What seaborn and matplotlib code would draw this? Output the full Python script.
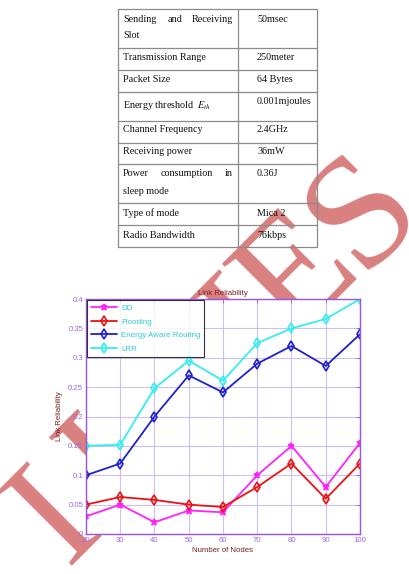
import matplotlib
matplotlib.use("Agg")
import matplotlib.pyplot as plt
import seaborn as sns
import pandas as pd

# table contents
param_rows = [["Sending", "and", "Receiving", "Slot"], "Transmission Range", "Packet Size",
              "Energy threshold  $E_{th}$", "Channel Frequency", "Receiving power",
              ["Power", "consumption", "in", "sleep mode"], "Type of mode", "Radio Bandwidth"]
param_values = ["50msec", "250meter", "64 Bytes", "0.001mjoules", "2.4GHz", "36mW",
                "0.36J", "Mica 2", "76kbps"]

# chart data
nodes = [20, 30, 40, 50, 60, 70, 80, 90, 100]
dd = [0.03, 0.05, 0.02, 0.04, 0.037, 0.10, 0.15, 0.08, 0.155]
flooding = [0.05, 0.063, 0.058, 0.05, 0.046, 0.08, 0.12, 0.06, 0.12]
energy_aware = [0.10, 0.12, 0.20, 0.27, 0.241, 0.29, 0.32, 0.286, 0.34]
lrr = [0.15, 0.152, 0.248, 0.295, 0.261, 0.325, 0.35, 0.366, 0.40]
series_names = ["DD", "Flooding", "Energy Aware Routing", "LRR"]
x_ticks = [20, 30, 40, 50, 60, 70, 80, 90, 100]
y_ticks = [0, 0.05, 0.1, 0.15, 0.2, 0.25, 0.3, 0.35, 0.4]
y_ticklabels = ["0", "0.05", "0.1", "0.15", "0.2", "0.25", "0.3", "0.35", "0.4"]

# watermark letters
wm_letters = ["I", "J", "I", "E", "S"]

sns.set_style("white")
plt.rcParams['font.family'] = ['Liberation Sans', 'DejaVu Sans']
plt.rcParams['mathtext.fontset'] = 'stix'

fig = plt.figure(figsize=(4.1, 5.74), dpi=100)

# background axes in pixel coordinates: watermark + table
bg = fig.add_axes([0, 0, 1, 1], zorder=0)
bg.set_xlim(0, 410)
bg.set_ylim(574, 0)
bg.axis("off")

# letters sit on a 45 degree line, offsets along it in pixels
wm_offsets = [0, 66, 272, 343, 433]
for letter, s in zip(wm_letters, wm_offsets):
    cx = 47 + s * 0.7071 + 38
    cy = 509 - s * 0.7071 + 38
    bg.text(cx, cy, letter, rotation=45, rotation_mode="anchor", ha="center", va="baseline",
            fontsize=116, family="Liberation Serif", color="#d98080", zorder=1)

row_lines = [9, 48, 70, 92, 121, 143, 164, 203, 225, 247]
tcol = "#8a8a8a"
for y in row_lines:
    bg.plot([118, 317], [y, y], color=tcol, lw=0.9, zorder=2)
for x in [118, 238, 317]:
    bg.plot([x, x], [9, 247], color=tcol, lw=0.9, zorder=2)

serif = dict(family="Liberation Serif", fontsize=7.3, color="#111111", zorder=3, va="center")
label_y = [19, 58, 80, 106, 130, 152, 174, 213, 235]
value_y = [19, 58, 80, 101, 130, 152, 174, 213, 235]
for lab, ly in zip(param_rows, label_y):
    if isinstance(lab, list):
        bg.text(123, ly, lab[0], ha="left", **serif)
        bg.text(175 if lab[1] == "and" else 187, ly, lab[1], ha="center", **serif)
        bg.text(233, ly, lab[2], ha="right", **serif)
        bg.text(123, ly + 17, lab[3], ha="left", **serif)
    else:
        bg.text(123, ly, lab, ha="left", **serif)
for val, vy in zip(param_values, value_y):
    bg.text(257, vy, val, ha="left", **serif)

# line chart
ax = fig.add_axes([86 / 410, 40 / 574, 274 / 410, 235 / 574], zorder=1)
ax.set_facecolor("white")

df = pd.DataFrame({
    "nodes": nodes * 4,
    "value": dd + flooding + energy_aware + lrr,
    "series": sum([[s] * len(nodes) for s in series_names], []),
})
palette = {"DD": "#ff22ff", "Flooding": "#ee1111", "Energy Aware Routing": "#2020cc", "LRR": "#33eeee"}
markers = {"DD": "*", "Flooding": "d", "Energy Aware Routing": "d", "LRR": "d"}
for name in series_names:
    sub = df[df["series"] == name]
    sns.lineplot(data=sub, x="nodes", y="value", color=palette[name], marker=markers[name],
                 linestyle="-", lw=1.3, markersize=4.5 if name == "DD" else 5.5,
                 markeredgewidth=1.2, markeredgecolor=palette[name],
                 markerfacecolor=palette[name] if name == "DD" else "none",
                 ax=ax, label=name, legend=False)

purple = "#9955dd"
tickcol = "#9a66ee"
ax.set_xlim(20, 100)
ax.set_ylim(0, 0.4)
ax.set_xticks(x_ticks)
ax.set_yticks(y_ticks)
ax.set_yticklabels(y_ticklabels)
ax.grid(True, color="#cdbff2", lw=0.8)
ax.tick_params(direction="in", length=3, width=0.6, colors=purple, labelcolor=tickcol,
               labelsize=5.6, top=True, right=True, pad=2)
for sp in ax.spines.values():
    sp.set_color(purple)
    sp.set_linewidth(1.0)

dark = "#7a1f1f"
ax.set_title("Link Reliability", fontsize=5.6, color=dark, pad=3)
ax.set_xlabel("Number of Nodes", fontsize=5.6, color=dark, labelpad=2)
ax.set_ylabel("Link Reliability", fontsize=5.6, color=dark, labelpad=4)

leg = ax.legend(handles=ax.lines[:4], labels=series_names, loc="upper left",
                bbox_to_anchor=(0, 1), borderaxespad=0.15, fontsize=5.8, frameon=True,
                fancybox=False, edgecolor="black", handlelength=3.2, labelspacing=0.75,
                borderpad=0.5, handletextpad=0.5)
leg.get_frame().set_linewidth(0.8)
for t in leg.get_texts():
    t.set_color("#33cccc")

fig.savefig("out.png", dpi=100)
